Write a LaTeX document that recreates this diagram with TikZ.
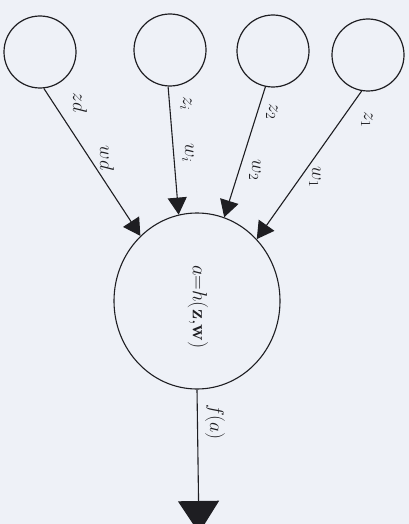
\documentclass[tikz,border=0pt]{standalone}
\usetikzlibrary{arrows.meta,shapes.geometric}
\definecolor{paper}{RGB}{238,241,247}
\definecolor{ink}{RGB}{30,30,34}
\newcommand{\bigtxt}[2]{\scalebox{#1}{$#2$}}
\tikzset{
  unit/.style={circle,draw=ink,line width=1.2pt,minimum size=72pt,inner sep=0pt},
  sumunit/.style={ellipse,draw=ink,line width=1.1pt,minimum width=166pt,minimum height=176pt,inner sep=0pt},
  link/.style={draw=ink,line width=1.1pt,-{Triangle[length=17pt,width=19pt]}},
  outlink/.style={draw=ink,line width=1.1pt,-{Triangle[length=32pt,width=41pt]}},
  lbl/.style={rotate=-90,text=ink,font=\fontsize{17.28}{20}\selectfont,inner sep=0pt}
}
\begin{document}
\begin{tikzpicture}[x=1pt,y=-1pt]
\fill[paper] (0,0) rectangle (409,524);
\useasboundingbox (0,0) rectangle (409,524);
\clip (0,0) rectangle (409,524);
\node[unit] (zd) at (40,52) {};
\node[unit] (zi) at (170,50) {};
\node[unit] (z2) at (273,51) {};
\node[unit] (z1) at (368,55) {};
\node[sumunit] (h) at (197,301) {};
\node[lbl] (ht) at (198,307) {\bigtxt{1.18}{a{=}h(\mathbf{z},\!\mathbf{w})}};
\coordinate (out) at (199,533);
\draw[link] (zd.-84) -- (h.131);
\draw[link] (zi.-93) -- (h.102);
\draw[link] (z2.-102) -- (h.72);
\draw[link] (z1.-100) -- (h.46);
\draw[outlink] (h.south) -- (out);
\node[lbl] (lzd) at (80,103) {\bigtxt{1.15}{zd}};
\node[lbl] (lwd) at (107,158) {\bigtxt{1.15}{wd}};
\node[lbl] (lzi) at (186,104) {\bigtxt{1.15}{z_i}};
\node[lbl] (lwi) at (188,153) {\bigtxt{1.15}{w_i}};
\node[lbl] (lz2) at (272,112) {\bigtxt{1.15}{z_2}};
\node[lbl] (lw2) at (255,170) {\bigtxt{1.15}{w_2}};
\node[lbl] (lz1) at (367,120) {\bigtxt{1.15}{z_1}};
\node[lbl] (lw1) at (315,177) {\bigtxt{1.15}{w_1}};
\node[lbl] (lfa) at (215,422) {\bigtxt{1.15}{f(a)}};
\end{tikzpicture}
\end{document}
